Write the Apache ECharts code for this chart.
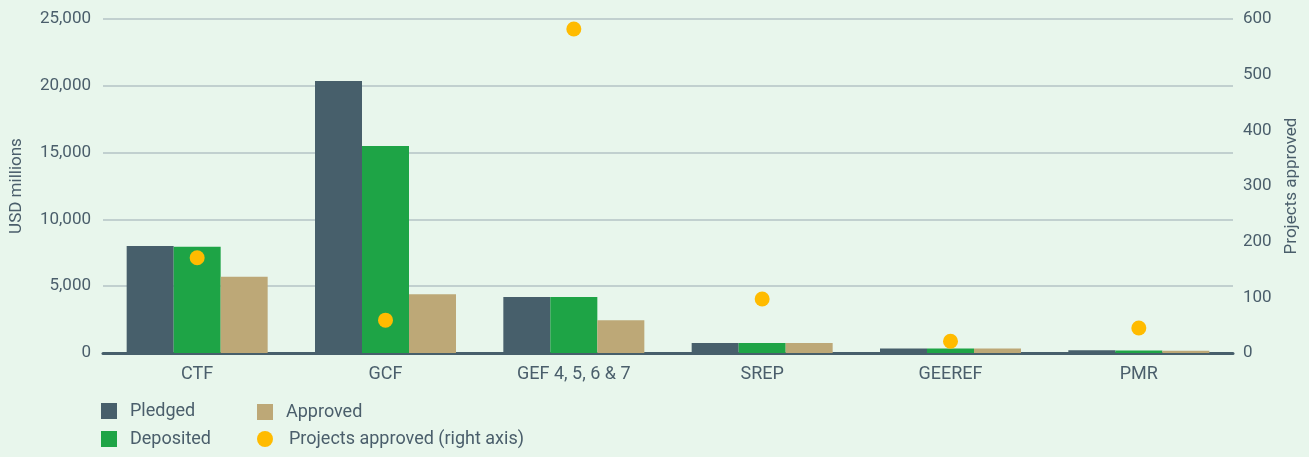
<!DOCTYPE html>
<html>
<head>
<meta charset="utf-8">
<script src="https://cdn.jsdelivr.net/npm/echarts@6/dist/echarts.min.js"></script>
<style>
html,body{margin:0;padding:0;background:#E8F6EC;}
#c{width:1309px;height:457px;}
</style>
</head>
<body>
<div id="c"></div>
<script>
const categories = ['CTF', 'GCF', 'GEF 4, 5, 6 & 7', 'SREP', 'GEEREF', 'PMR'];
const pledged = [8000, 20350, 4200, 750, 330, 200];
const deposited = [7950, 15500, 4200, 750, 330, 180];
const approved = [5700, 4400, 2450, 750, 330, 170];
const projectsApproved = [171, 59, 582, 97, 21, 45];
const leftTicks = { min: 0, max: 25000, step: 5000 };
const rightTicks = { min: 0, max: 600, step: 100 };

const FONT = '"Roboto", "Noto Sans", sans-serif';
const TXT = '#4A5E6B';

function legendAt(name, left, top, icon, pad) {
  const item = icon ? { name: name, icon: icon } : name;
  return {
    data: [item], left: left, top: top,
    itemWidth: 16, itemHeight: 16,
    textStyle: { fontFamily: FONT, fontSize: 18, color: TXT, padding: [0, 0, 0, pad] }
  };
}

const chart = echarts.init(document.getElementById('c'));
chart.setOption({
  backgroundColor: '#E8F6EC',
  textStyle: { fontFamily: FONT, color: TXT },
  grid: { left: 98, right: 76, top: 19, bottom: 104 },
  legend: [
    legendAt('Pledged', 96, 397, 'rect', 8),
    legendAt('Deposited', 96, 425, 'rect', 8),
    legendAt('Approved', 252, 398, 'rect', 8),
    legendAt('Projects approved (right axis)', 252, 425, 'circle', 11)
  ],
  xAxis: {
    type: 'category',
    data: categories,
    axisLine: { lineStyle: { color: '#475F6B', width: 3 } },
    axisTick: { show: false },
    axisLabel: { fontFamily: FONT, fontSize: 18, color: TXT, margin: 12 }
  },
  yAxis: [
    {
      type: 'value', min: leftTicks.min, max: leftTicks.max, interval: leftTicks.step,
      name: 'USD millions', nameLocation: 'middle', nameGap: 78, nameRotate: 90,
      nameTextStyle: { fontFamily: FONT, fontSize: 17, color: TXT },
      axisLine: { show: false }, axisTick: { show: false },
      axisLabel: { fontFamily: FONT, fontSize: 17, color: TXT, margin: 12 },
      splitLine: { lineStyle: { color: '#B5C3C6', width: 1.5 } }
    },
    {
      type: 'value', min: rightTicks.min, max: rightTicks.max, interval: rightTicks.step,
      name: 'Projects approved', nameLocation: 'middle', nameGap: 50, nameRotate: 90,
      nameTextStyle: { fontFamily: FONT, fontSize: 17, color: TXT },
      axisLine: { show: false }, axisTick: { show: false },
      axisLabel: { fontFamily: FONT, fontSize: 17, color: TXT, margin: 10 },
      splitLine: { show: false }
    }
  ],
  series: [
    { name: 'Pledged', type: 'bar', data: pledged, barWidth: 47, barGap: '0%', itemStyle: { color: '#475F6B' } },
    { name: 'Deposited', type: 'bar', data: deposited, barWidth: 47, barGap: '0%', itemStyle: { color: '#1EA446' } },
    { name: 'Approved', type: 'bar', data: approved, barWidth: 47, barGap: '0%', itemStyle: { color: '#BDA877' } },
    { name: 'Projects approved (right axis)', type: 'scatter', yAxisIndex: 1, data: projectsApproved,
      symbol: 'circle', symbolSize: 15, itemStyle: { color: '#FFBB00', opacity: 1 }, z: 5 }
  ]
});
</script>
</body>
</html>
